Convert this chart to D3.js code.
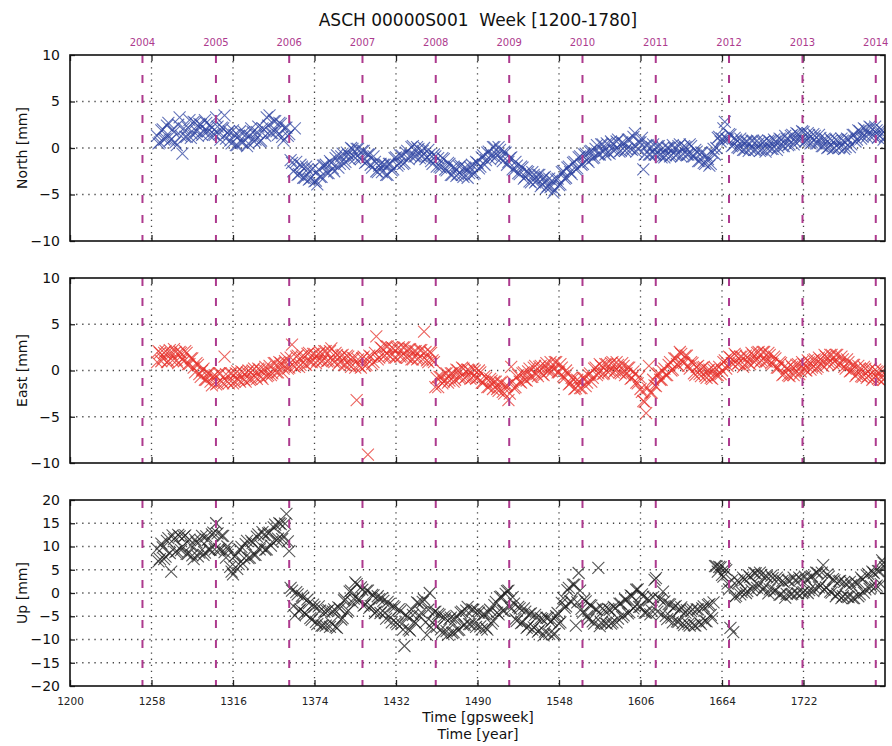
<!DOCTYPE html>
<html>
<head>
<meta charset="utf-8">
<script src="https://cdn.jsdelivr.net/npm/d3@7"></script>
<style>
  body { margin: 0; background: #fff; }
  text { font-family: "DejaVu Sans", Verdana, sans-serif; }
</style>
</head>
<body>
<svg id="chart" width="892" height="746"></svg>
<script>
// weekly solutions, split into even and odd gps weeks
const gpsWeeks = [
  1262,1264,1266,1268,1270,1272,1274,1276,1278,1280,1282,1284,1286,1288,1290,1292,1294,1296,1298,1300,
  1302,1304,1306,1308,1310,1312,1314,1316,1318,1320,1322,1324,1326,1328,1330,1332,1334,1336,1338,1340,
  1342,1344,1346,1348,1350,1352,1354,1356,1358,1360,1362,1364,1366,1368,1370,1372,1374,1376,1378,1380,
  1382,1384,1386,1388,1390,1392,1394,1396,1398,1400,1402,1404,1406,1408,1410,1412,1414,1416,1418,1420,
  1422,1424,1426,1428,1430,1432,1434,1436,1438,1440,1442,1444,1446,1448,1450,1452,1454,1456,1458,1460,
  1462,1464,1466,1468,1470,1472,1474,1476,1478,1480,1482,1484,1486,1488,1490,1492,1494,1496,1498,1500,
  1502,1504,1506,1508,1510,1512,1514,1516,1518,1520,1522,1524,1526,1528,1530,1532,1534,1536,1538,1540,
  1542,1544,1546,1548,1550,1552,1554,1556,1558,1560,1562,1564,1566,1568,1570,1572,1574,1576,1578,1580,
  1582,1584,1586,1588,1590,1592,1594,1596,1598,1600,1602,1604,1606,1608,1610,1612,1614,1616,1618,1620,
  1622,1624,1626,1628,1630,1632,1634,1636,1638,1640,1642,1644,1646,1648,1650,1652,1654,1656,1658,1660,
  1662,1664,1666,1668,1670,1672,1674,1676,1678,1680,1682,1684,1686,1688,1690,1692,1694,1696,1698,1700,
  1702,1704,1706,1708,1710,1712,1714,1716,1718,1720,1722,1724,1726,1728,1730,1732,1734,1736,1738,1740,
  1742,1744,1746,1748,1750,1752,1754,1756,1758,1760,1762,1764,1766,1768,1770,1772,1774,1776,1778,1780
];
const gpsWeeksOdd = [
  1263,1265,1267,1269,1271,1273,1275,1277,1279,1281,1283,1285,1287,1289,1291,1293,1295,1297,1299,1301,
  1303,1305,1307,1309,1311,1313,1315,1317,1319,1321,1323,1325,1327,1329,1331,1333,1335,1337,1339,1341,
  1343,1345,1347,1349,1351,1353,1355,1357,1359,1361,1363,1365,1367,1369,1371,1373,1375,1377,1379,1381,
  1383,1385,1387,1389,1391,1393,1395,1397,1399,1401,1403,1405,1407,1409,1411,1413,1415,1417,1419,1421,
  1423,1425,1427,1429,1431,1433,1435,1437,1439,1441,1443,1445,1447,1449,1451,1453,1455,1457,1459,1461,
  1463,1465,1467,1469,1471,1473,1475,1477,1479,1481,1483,1485,1487,1489,1491,1493,1495,1497,1499,1501,
  1503,1505,1507,1509,1511,1513,1515,1517,1519,1521,1523,1525,1527,1529,1531,1533,1535,1537,1539,1541,
  1543,1545,1547,1549,1551,1553,1555,1557,1559,1561,1563,1565,1567,1569,1571,1573,1575,1577,1579,1581,
  1583,1585,1587,1589,1591,1593,1595,1597,1599,1601,1603,1605,1607,1609,1611,1613,1615,1617,1619,1621,
  1623,1625,1627,1629,1631,1633,1635,1637,1639,1641,1643,1645,1647,1649,1651,1653,1655,1657,1659,1661,
  1663,1665,1667,1669,1671,1673,1675,1677,1679,1681,1683,1685,1687,1689,1691,1693,1695,1697,1699,1701,
  1703,1705,1707,1709,1711,1713,1715,1717,1719,1721,1723,1725,1727,1729,1731,1733,1735,1737,1739,1741,
  1743,1745,1747,1749,1751,1753,1755,1757,1759,1761,1763,1765,1767,1769,1771,1773,1775,1777,1779
];

const northValues = [
  1.3,0.6,2.0,1.0,2.7,0.9,1.7,0.3,3.3,-0.6,1.2,2.2,1.1,2.8,1.8,2.6,1.4,3.0,1.8,2.4,
  1.5,3.3,1.5,2.2,3.5,1.6,0.8,1.9,0.3,1.3,0.6,1.7,0.2,1.3,1.7,0.9,2.3,0.8,2.0,3.3,
  3.5,1.6,2.9,1.4,2.6,0.8,2.2,1.5,-1.6,2.1,-2.9,-1.8,-3.2,-2.0,-3.4,-2.3,-3.6,-3.9,-3.1,-1.9,
  -1.8,-2.7,-1.6,-2.5,-0.8,-1.7,-0.6,-1.5,-0.7,0.0,-0.9,-0.1,-1.1,-0.3,-1.6,-0.7,-1.8,-0.9,-2.5,-1.9,
  -2.6,-1.8,-2.9,-1.7,-2.3,-1.0,-1.7,-0.8,-1.6,-0.3,-0.8,0.2,-0.9,-0.1,-0.9,0.0,-1.0,-0.7,-1.7,-0.9,
  -1.1,-2.1,-1.2,-2.4,-1.7,-2.9,-2.2,-2.8,-1.9,-3.1,-2.2,-2.7,-1.8,-2.7,-1.6,-2.0,-0.8,-1.3,-0.4,-0.8,
  0.1,-0.8,-0.2,-1.4,-0.5,-1.5,-1.0,-2.4,-1.9,-2.8,-2.1,-3.1,-2.6,-3.7,-2.9,-3.5,-2.9,-3.9,-3.1,-4.1,
  -4.2,-4.8,-3.4,-4.0,-2.6,-3.3,-2.1,-2.6,-1.6,-2.3,-1.0,-1.8,-0.7,-1.3,-0.4,-1.1,-0.1,-0.7,0.4,-0.3,
  0.5,-0.6,0.5,-0.2,0.9,-0.3,0.5,-0.1,0.9,-0.2,1.6,-0.1,0.6,-2.3,0.3,-0.7,0.1,-0.7,0.2,-0.7,
  0.0,-0.8,0.0,-0.8,0.0,-0.7,0.4,-0.6,0.1,-0.7,0.2,-0.9,-0.4,-1.4,-0.5,-1.7,-1.2,-1.7,-0.1,0.0,
  1.2,1.0,2.8,0.9,1.4,0.3,0.9,0.0,0.7,-0.2,0.7,0.0,0.8,-0.2,0.5,-0.2,0.7,0.0,0.7,-0.1,
  0.7,0.1,0.9,0.2,1.0,0.4,1.4,0.7,1.5,0.9,1.7,0.8,1.4,0.6,1.3,0.5,1.1,0.2,0.9,0.1,
  0.8,0.0,0.8,0.1,0.8,0.1,0.9,0.4,1.4,0.9,1.8,1.2,2.0,1.5,2.2,1.3,1.9,1.3,1.9,1.2
];
const northValuesOdd = [
  0.5,1.9,0.9,2.4,0.8,2.0,0.6,2.5,1.3,2.1,1.2,3.0,1.5,2.7,1.3,2.5,1.8,2.7,1.4,2.2,
  1.4,2.3,0.9,2.1,1.0,1.8,0.5,1.4,0.3,1.8,0.6,1.4,0.5,2.1,0.7,1.7,0.7,2.1,1.3,2.4,
  1.6,2.9,1.8,2.7,1.2,2.2,1.3,-1.3,-2.5,-1.5,-2.8,-2.0,-3.2,-2.3,-3.3,-2.2,-3.5,-2.3,-3.1,-1.9,
  -2.7,-1.4,-2.2,-1.1,-2.1,-0.9,-1.7,-0.5,-1.2,-0.1,-1.1,-0.1,-1.2,-0.3,-1.5,-0.7,-2.1,-1.5,-2.6,-1.7,
  -1.8,-2.9,-1.7,-2.4,-1.1,-1.9,-0.8,-1.7,-0.5,-1.2,0.1,-0.9,0.1,-1.1,-0.3,-1.2,-0.2,-1.4,-0.7,-2.0,
  -2.0,-1.1,-2.3,-1.6,-2.9,-2.0,-3.0,-2.0,-2.9,-2.1,-3.2,-2.1,-2.8,-1.5,-2.2,-1.0,-1.8,-0.5,-1.2,0.1,
  -1.0,0.1,-1.1,-0.4,-1.8,-1.1,-2.3,-1.5,-2.7,-2.0,-3.3,-2.5,-3.6,-2.6,-3.7,-2.9,-4.1,-3.2,-4.3,-3.3,
  -3.5,-4.5,-3.3,-3.9,-2.5,-3.2,-2.0,-2.8,-1.5,-2.2,-0.9,-1.7,-0.6,-1.5,-0.3,-1.0,0.3,-0.7,0.4,-0.7,
  -0.5,0.7,-0.3,0.7,-0.4,0.6,-0.3,0.9,-0.1,1.2,-0.4,0.6,1.1,-0.7,0.3,-0.7,0.4,-0.7,0.2,-1.0,
  -1.0,0.0,-0.9,0.3,-0.8,0.2,-0.9,0.2,-0.7,0.4,-0.9,-0.2,-1.4,-0.5,-1.6,-0.8,-1.9,-0.5,-0.7,1.1,
  0.7,2.1,1.0,1.5,0.2,1.1,0.1,1.0,-0.2,0.7,-0.3,0.8,-0.2,0.8,-0.3,0.6,-0.4,0.8,-0.1,0.9,
  -0.2,1.0,0.2,1.3,0.3,1.3,0.4,1.6,0.8,1.8,0.7,1.6,0.5,1.5,0.5,1.4,0.2,1.0,0.0,1.0,
  -0.1,0.9,0.0,1.0,-0.1,1.0,0.1,1.4,0.7,1.9,1.0,2.1,1.2,2.3,1.4,2.3,1.1,2.0,0.9
];

const eastValues = [
  0.9,1.9,1.3,2.1,1.0,1.8,2.3,1.1,2.0,1.2,2.1,0.7,1.3,0.3,0.8,-0.4,0.0,-1.0,-0.3,-1.2,
  -0.6,-1.5,-0.3,-1.2,1.5,-1.2,-0.3,-1.4,-0.3,-1.0,-0.1,-1.0,-0.2,-1.0,0.0,-0.7,0.2,-0.7,0.1,-0.6,
  0.5,-0.3,0.8,-0.2,0.8,0.2,1.3,0.3,2.8,0.4,1.6,0.6,1.6,0.6,1.9,0.9,1.8,1.1,2.0,1.1,
  2.1,1.1,2.4,0.9,1.7,0.9,1.7,0.6,1.5,0.4,1.3,-3.2,0.5,1.3,0.5,-9.1,1.5,0.9,3.7,1.4,
  2.4,1.6,2.6,1.5,2.4,1.4,2.5,1.6,2.5,1.4,2.3,1.2,2.1,1.3,2.2,4.2,1.1,2.0,1.1,-1.8,
  -1.8,-0.7,-1.2,-0.3,-1.1,-0.3,-1.0,0.0,-0.7,0.2,-0.7,0.0,-0.8,0.0,-0.8,-0.2,-1.3,-0.8,-1.8,-1.1,
  -1.2,-2.0,-1.3,-2.3,-1.7,-3.2,0.4,-1.9,-0.7,-1.2,-0.3,-1.0,-0.1,-0.7,0.3,-0.4,0.4,-0.4,0.5,-0.1,
  0.9,0.2,0.9,-0.2,0.3,-0.8,-0.3,-1.4,-0.9,-1.9,-1.2,-1.9,-0.8,-1.3,-0.3,-0.8,0.3,-0.3,0.5,-0.3,
  0.7,0.0,0.9,0.0,0.6,-0.3,0.5,-0.3,0.3,-0.8,-0.4,-1.4,-2.0,-3.3,-4.6,0.5,-2.4,-1.6,-0.4,-1.0,
  -0.1,-0.5,0.6,0.0,1.3,0.7,2.0,0.9,1.6,0.5,0.9,-0.3,0.4,-0.4,0.3,-0.6,0.0,-0.8,0.1,-0.5,
  0.4,0.0,1.1,0.5,1.4,0.7,1.6,0.8,1.5,0.6,1.4,0.7,1.7,1.1,2.0,1.1,2.0,1.0,1.7,0.7,
  1.3,0.3,0.8,-0.4,0.2,-0.6,0.4,-0.2,0.7,-0.1,0.7,0.0,0.9,0.3,1.2,0.4,1.2,0.5,1.5,0.9,
  1.7,1.0,1.7,0.7,1.2,0.2,0.9,0.0,0.6,-0.4,0.2,-0.7,0.2,-0.6,0.2,-0.8,-0.1,-1.0,-0.1,-0.8
];
const eastValuesOdd = [
  2.1,1.0,1.9,0.9,2.2,1.1,2.0,0.8,1.9,1.0,1.9,0.7,1.3,-0.2,0.6,-0.7,0.2,-1.0,-0.3,-1.6,
  -0.5,-1.4,-0.3,-1.4,-0.4,-1.4,-0.3,-1.2,-0.1,-1.2,-0.2,-1.2,0.0,-0.9,0.2,-0.9,0.1,-0.9,0.4,-0.5,
  -0.5,0.8,-0.2,0.9,-0.2,1.0,0.2,1.4,0.5,1.5,0.4,1.5,0.7,1.8,0.9,1.8,0.8,1.8,1.0,2.1,
  1.0,2.1,1.1,1.9,0.7,1.6,0.6,1.6,0.6,1.4,0.3,1.2,0.3,1.5,0.6,1.6,0.7,1.9,1.2,2.5,
  1.5,2.6,1.6,2.5,1.4,2.4,1.5,2.5,1.5,2.3,1.2,2.1,1.2,2.2,1.2,2.0,0.9,1.9,0.9,-0.8,
  -0.7,-1.4,-0.3,-1.3,-0.3,-1.2,0.1,-0.8,0.3,-0.8,0.1,-0.9,0.2,-0.9,0.0,-1.3,-0.6,-1.8,-0.9,-2.0,
  -1.2,-2.2,-1.3,-2.5,-1.6,-2.5,-1.2,-1.8,-0.5,-1.3,-0.2,-1.1,0.2,-0.7,0.5,-0.6,0.5,-0.5,0.8,0.0,
  -0.1,0.9,-0.2,0.7,-0.6,0.0,-1.5,-0.8,-2.0,-1.0,-1.9,-0.8,-1.7,-0.5,-1.2,0.2,-0.5,0.7,-0.4,0.7,
  -0.2,0.8,-0.2,0.9,-0.2,0.8,-0.5,0.3,-0.9,-0.1,-1.3,-0.7,-2.3,-3.4,-1.9,-2.4,-1.0,-1.7,-0.3,-1.0,
  0.2,-0.5,0.9,0.1,1.3,0.5,1.8,0.8,1.6,0.2,0.8,-0.5,0.5,-0.6,0.4,-0.8,0.1,-0.9,0.3,-0.5,
  -0.4,0.9,0.2,1.5,0.8,1.8,0.7,1.5,0.4,1.6,0.8,1.9,0.9,1.9,0.9,2.0,1.0,1.9,0.8,1.5,
  0.3,0.9,-0.5,0.5,-0.5,0.6,-0.5,0.6,-0.4,0.9,0.1,1.1,0.1,1.1,0.2,1.4,0.6,1.7,0.7,1.7,
  0.8,1.7,0.6,1.5,0.4,1.2,-0.1,0.6,-0.6,0.5,-0.6,0.4,-0.8,0.1,-1.0,0.1,-0.9,0.1,-1.0
];

const upValues = [
  9.5,7.3,9.8,7.8,11.8,4.6,11.6,9.0,12.2,10.0,12.4,8.4,10.2,7.3,10.9,8.7,12.3,8.7,11.4,9.3,
  13.0,15.0,9.5,12.3,8.8,10.0,5.6,4.0,8.1,6.2,9.9,7.5,11.2,7.6,10.8,8.2,12.6,10.1,12.5,9.4,
  13.0,11.0,14.7,11.7,14.8,12.3,17.0,9.0,0.5,-4.8,-0.3,-3.5,-1.0,-4.6,-2.2,-5.8,-3.0,-6.7,-3.8,-7.0,
  -7.0,-3.7,-6.5,-3.5,-7.5,-3.3,-5.4,-1.4,-3.8,0.5,-1.2,1.9,-1.6,0.7,-2.5,0.5,-2.8,-0.5,-4.0,-1.3,
  -1.1,-4.3,-1.9,-5.3,-2.8,-6.3,-3.5,-6.7,-11.4,-5.1,-8.1,-4.7,-6.5,-2.2,-4.2,-1.4,-9.0,0.0,-6.4,-4.0,
  -4.5,-7.8,-5.1,-8.2,-5.6,-8.6,-5.7,-8.0,-4.2,-6.9,-3.8,-6.7,-3.5,-6.5,-3.9,-7.2,-4.6,-7.5,-4.2,-6.6,
  -2.6,-4.2,-0.9,-3.8,-0.2,0.5,-3.4,-2.3,-6.0,-3.3,-6.3,-4.0,-7.2,-4.4,-7.4,-5.3,-8.0,-5.6,-8.3,-5.4,
  -6.2,-8.9,-5.0,-6.6,-2.1,-3.2,0.6,-1.8,1.8,-7.0,4.3,-3.4,-1.4,-5.0,-2.6,-6.1,-3.5,5.4,-6.4,-3.7,
  -6.6,-3.6,-6.3,-3.3,-5.5,-2.3,-4.8,-1.5,-4.1,-0.7,-2.9,0.8,-3.0,-0.8,-4.2,-1.6,-3.8,2.8,-4.0,-1.4,
  0.3,-4.9,-2.4,-5.3,-3.0,-6.1,-3.6,-6.5,-4.2,-6.7,-3.9,-6.9,-3.5,-6.3,-3.3,-6.0,-2.6,-4.7,-2.0,5.8,
  5.6,3.9,5.2,2.0,-7.5,-8.4,-0.6,2.3,0.2,2.9,0.4,3.4,1.3,4.2,1.8,3.9,1.2,3.5,0.8,3.2,
  0.5,2.9,-0.3,2.3,-0.2,2.6,-0.2,2.7,-0.1,3.0,0.2,2.9,0.6,3.6,1.0,4.3,1.6,6.0,1.2,3.5,
  0.1,2.7,-0.2,2.6,-0.7,1.9,-0.9,1.7,-1.1,2.0,-0.3,2.9,0.8,4.1,1.5,4.3,1.6,4.7,7.0,5.5
];
const upValuesOdd = [
  6.8,10.6,7.3,11.2,8.6,12.4,8.8,12.5,9.2,12.1,8.4,11.5,8.1,11.5,7.9,11.3,8.2,12.2,9.3,12.6,
  9.4,12.8,9.3,12.3,7.6,9.2,4.6,7.9,5.2,9.3,6.3,10.5,7.5,11.2,8.2,12.1,9.4,13.1,9.3,12.8,
  10.2,14.1,11.3,15.0,11.6,14.9,11.1,1.1,-2.8,0.2,-3.8,-0.6,-4.3,-1.4,-5.4,-2.5,-6.2,-2.9,-7.0,-4.0,
  -3.9,-7.3,-4.0,-7.3,-3.1,-5.7,-1.6,-4.1,0.3,-2.0,2.3,-1.4,1.2,-2.7,0.5,-3.2,-0.4,-4.3,-0.7,-4.3,
  -1.7,-5.5,-2.4,-6.3,-3.1,-6.7,-3.9,-7.9,-4.7,-7.8,-3.5,-6.2,-2.0,-4.9,-1.9,-6.3,-3.6,-7.4,-4.1,-7.3,
  -4.7,-8.5,-5.4,-9.0,-5.3,-8.4,-4.9,-7.9,-4.0,-6.8,-3.0,-6.7,-3.6,-7.3,-4.2,-7.8,-4.6,-7.9,-3.6,-6.0,
  -1.9,-4.6,-0.8,-3.8,0.4,-2.9,-0.9,-5.6,-3.0,-6.5,-3.3,-7.5,-4.5,-7.9,-4.7,-8.3,-5.4,-9.1,-5.3,-8.8,
  -5.9,-8.8,-4.3,-6.3,-1.1,-2.9,1.1,-1.9,1.8,-2.0,0.5,-4.2,-1.8,-5.7,-2.7,-6.6,-3.6,-7.1,-3.3,-6.5,
  -3.4,-6.6,-3.0,-6.3,-2.3,-5.2,-1.4,-4.4,-0.5,-3.3,0.7,-3.0,-0.3,-4.2,-1.2,-4.6,-0.9,3.2,-1.1,-4.6,
  -1.8,-5.6,-2.5,-6.3,-2.8,-6.2,-3.1,-6.9,-3.7,-7.0,-3.5,-7.0,-3.5,-6.7,-2.9,-6.1,-2.4,-5.4,5.8,4.6,
  5.5,3.5,4.9,0.8,2.7,-0.9,2.7,-0.3,3.3,0.0,3.8,0.6,4.3,1.1,4.4,0.7,3.7,-0.1,3.7,0.4,
  3.3,-0.4,2.6,-1.0,2.7,-0.3,3.3,-0.1,3.3,0.0,3.5,0.0,3.4,0.4,4.4,1.2,4.4,0.7,4.0,0.3,
  3.0,-0.7,2.5,-1.1,2.4,-0.8,2.4,-1.1,2.3,-0.7,3.3,0.1,3.8,0.9,4.6,1.2,4.7,1.9,6.5
];

const weekTicks = [1200, 1258, 1316, 1374, 1432, 1490, 1548, 1606, 1664, 1722];
const weekDomain = [1200, 1780];
const yearTicks = [2004, 2005, 2006, 2007, 2008, 2009, 2010, 2011, 2012, 2013, 2014];
const horizTicks = [-10, -5, 0, 5, 10];
const upTicks = [-20, -15, -10, -5, 0, 5, 10, 15, 20];

const left = 70;
const right = 885;
const yearColor = '#ad3a8e';
const markerPath = 'M-6,-6L6,6M-6,6L6,-6';

const panels = [
  { id: 'north', label: 'North [mm]', values: [northValues, northValuesOdd], color: '#2f44a2', domain: [-10, 10], ticks: horizTicks, top: 55, bottom: 241 },
  { id: 'east', label: 'East [mm]', values: [eastValues, eastValuesOdd], color: '#e5302a', domain: [-10, 10], ticks: horizTicks, top: 278, bottom: 463 },
  { id: 'up', label: 'Up [mm]', values: [upValues, upValuesOdd], color: '#1e1e1e', domain: [-20, 20], ticks: upTicks, top: 500, bottom: 686 }
];

// gps week of 1 January of a given year
const gpsEpoch = Date.UTC(1980, 0, 6);
const yearToWeek = (yr) => (Date.UTC(yr, 0, 1) - gpsEpoch) / (7 * 864e5);

const svg = d3.select('#chart');
const x = d3.scaleLinear().domain(weekDomain).range([left, right]);
const fmt = d3.format('d');

svg.append('text')
  .attr('x', 478)
  .attr('y', 26)
  .attr('text-anchor', 'middle')
  .style('font-size', '17px')
  .style('white-space', 'pre')
  .attr('fill', '#111')
  .text('ASCH 00000S001  Week [1200-1780]');

panels.forEach((p, i) => {
  const y = d3.scaleLinear().domain(p.domain).range([p.bottom, p.top]);
  const g = svg.append('g').attr('class', p.id);

  g.append('defs').append('clipPath').attr('id', 'clip-' + p.id)
    .append('rect')
    .attr('x', left).attr('y', p.top)
    .attr('width', right - left).attr('height', p.bottom - p.top);

  // dotted grid
  const grid = g.append('g')
    .attr('stroke', '#444')
    .attr('stroke-width', 1.3)
    .attr('stroke-dasharray', '1.3,4.8');
  grid.selectAll('line.h')
    .data(p.ticks.slice(1, -1))
    .join('line')
    .attr('class', 'h')
    .attr('x1', left).attr('x2', right)
    .attr('y1', (d) => y(d)).attr('y2', (d) => y(d));
  grid.selectAll('line.v')
    .data(weekTicks.slice(1))
    .join('line')
    .attr('class', 'v')
    .attr('x1', (d) => x(d)).attr('x2', (d) => x(d))
    .attr('y1', p.top).attr('y2', p.bottom);

  // data markers
  const [even, odd] = p.values;
  const points = even.map((v, k) => [gpsWeeks[k], v])
    .concat(odd.map((v, k) => [gpsWeeksOdd[k], v]));
  const pts = g.append('g').attr('clip-path', `url(#clip-${p.id})`);
  pts.selectAll('path')
    .data(points)
    .join('path')
    .attr('d', markerPath)
    .attr('transform', (d) => `translate(${x(d[0])},${y(d[1])})`)
    .attr('fill', 'none')
    .attr('stroke', p.color)
    .attr('stroke-opacity', 0.75)
    .attr('stroke-width', 1.1);

  // year boundaries
  g.append('g')
    .selectAll('line')
    .data(yearTicks)
    .join('line')
    .attr('x1', (d) => x(yearToWeek(d))).attr('x2', (d) => x(yearToWeek(d)))
    .attr('y1', p.top).attr('y2', p.bottom)
    .attr('stroke', yearColor)
    .attr('stroke-width', 2)
    .attr('stroke-dasharray', '8,12');

  // axes with inward ticks
  const axL = g.append('g').attr('transform', `translate(${left},0)`)
    .call(d3.axisLeft(y).tickValues(p.ticks).tickSize(-5).tickPadding(10).tickFormat(fmt));
  axL.selectAll('text').style('font-size', '14px').attr('fill', '#111');
  g.append('g').attr('transform', `translate(${right},0)`)
    .call(d3.axisRight(y).tickValues(p.ticks).tickSize(-5).tickFormat(''));
  g.append('g').attr('transform', `translate(0,${p.top})`)
    .call(d3.axisTop(x).tickValues(weekTicks).tickSize(-6).tickFormat(''));
  const axB = g.append('g').attr('transform', `translate(0,${p.bottom})`)
    .call(d3.axisBottom(x).tickValues(weekTicks).tickSize(-6).tickPadding(12)
      .tickFormat(i === panels.length - 1 ? fmt : ''));
  axB.selectAll('text').style('font-size', '10.5px').attr('fill', '#222');
  g.selectAll('.domain').remove();
  g.selectAll('.tick line').attr('stroke', '#222').attr('stroke-width', 1.3);

  // frame
  g.append('rect')
    .attr('x', left).attr('y', p.top)
    .attr('width', right - left).attr('height', p.bottom - p.top)
    .attr('fill', 'none')
    .attr('stroke', '#111')
    .attr('stroke-width', 1.6);

  // y label
  g.append('text')
    .attr('transform', `translate(22,${(p.top + p.bottom) / 2}) rotate(-90)`)
    .attr('text-anchor', 'middle')
    .attr('dy', '0.35em')
    .style('font-size', '14px')
    .attr('fill', '#111')
    .text(p.label);

  // year labels on the first panel
  if (i === 0) {
    g.append('g')
      .selectAll('text')
      .data(yearTicks)
      .join('text')
      .attr('x', (d) => x(yearToWeek(d)))
      .attr('y', 46)
      .attr('text-anchor', 'middle')
      .style('font-size', '10px')
      .attr('fill', yearColor)
      .text((d) => d);
  }
});

svg.append('text')
  .attr('x', 478).attr('y', 722)
  .attr('text-anchor', 'middle')
  .style('font-size', '14px')
  .attr('fill', '#111')
  .text('Time [gpsweek]');
svg.append('text')
  .attr('x', 478).attr('y', 739)
  .attr('text-anchor', 'middle')
  .style('font-size', '14px')
  .attr('fill', '#111')
  .text('Time [year]');
</script>
</body>
</html>
